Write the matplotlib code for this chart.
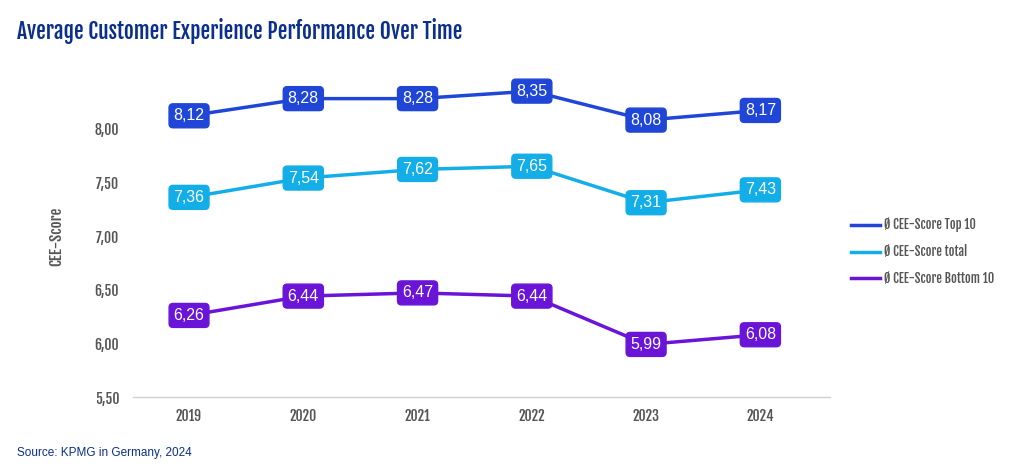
import matplotlib
matplotlib.use("Agg")
import matplotlib.pyplot as plt
from matplotlib.lines import Line2D

years = ["2019", "2020", "2021", "2022", "2023", "2024"]
top10 = [8.12, 8.28, 8.28, 8.35, 8.08, 8.17]
total = [7.36, 7.54, 7.62, 7.65, 7.31, 7.43]
bottom10 = [6.26, 6.44, 6.47, 6.44, 5.99, 6.08]
series_names = ["Ø CEE-Score Top 10", "Ø CEE-Score total", "Ø CEE-Score Bottom 10"]
yticks = [5.5, 6.0, 6.5, 7.0, 7.5, 8.0]

colors = ["#1f46d6", "#13aee8", "#6a14d8"]
navy = "#0b2f8c"
gray = "#555555"
COND = ["Fjalla One", "DejaVu Sans"]

fig = plt.figure(figsize=(10.14, 4.70), dpi=100)
ax = fig.add_axes([0.1312, 0.1553, 0.6874, 0.6851])

x = list(range(len(years)))
for vals, c, name in zip([top10, total, bottom10], colors, series_names):
    ax.plot(x, vals, color=c, lw=2.5, zorder=2, label=name)
    for xi, v in zip(x, vals):
        ax.text(xi, v, f"{v:.2f}".replace(".", ","), ha="center", va="center",
                color="white", fontsize=11.5, family="Liberation Sans", zorder=3,
                bbox=dict(boxstyle="round,pad=0.28,rounding_size=0.25", fc=c, ec=c))

ax.set_xlim(-0.49, 5.61)
ax.set_ylim(5.5, 8.5)
ax.set_xticks(x)
ax.set_xticklabels(years)
ax.set_yticks(yticks)
ax.set_yticklabels([f"{t:.2f}".replace(".", ",") for t in yticks])
for lbl in ax.get_xticklabels() + ax.get_yticklabels():
    lbl.set_fontfamily(COND)
    lbl.set_fontsize(10)
    lbl.set_color(gray)
ax.tick_params(length=0)
ax.tick_params(axis="x", pad=8)
ax.tick_params(axis="y", pad=10)
for s in ["top", "right", "left"]:
    ax.spines[s].set_visible(False)
ax.spines["bottom"].set_color("#d0d0d0")
ax.spines["bottom"].set_linewidth(1)
ax.set_ylabel("CEE-Score", fontsize=11, color=gray, labelpad=22, family=COND)

handles = [Line2D([0], [0], color=c, lw=2.5) for c in colors]
leg = fig.legend(handles, series_names, loc="center left", bbox_to_anchor=(0.828, 0.465),
                 frameon=False, handlelength=2.3, handletextpad=0.35, labelspacing=0.95,
                 prop=dict(family=COND, size=9))
for t in leg.get_texts():
    t.set_color(gray)

fig.text(0.017, 0.935, "Average Customer Experience Performance Over Time", fontsize=15.5,
         color=navy, va="center", ha="left", family=COND)
fig.text(0.017, 0.037, "Source: KPMG in Germany, 2024", fontsize=8.5, color=navy,
         family="Liberation Sans", va="center", ha="left")

fig.savefig("out.png", dpi=100)
